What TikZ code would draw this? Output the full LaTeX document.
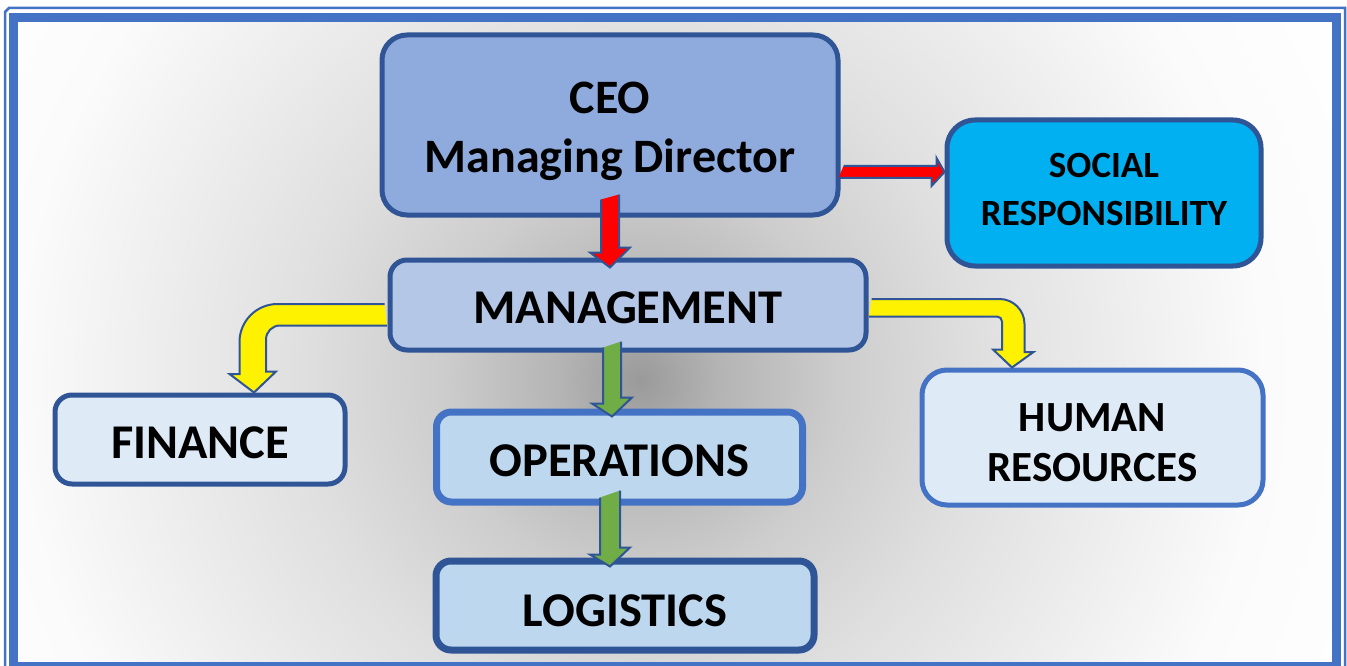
\documentclass[tikz,border=0pt]{standalone}
\usepackage{fontspec}
\setmainfont{Carlito}
\usepackage{tikz}
\usetikzlibrary{calc}

\definecolor{darkedge}{HTML}{2F5597}
\definecolor{midedge}{HTML}{4472C4}
\definecolor{frameblue}{HTML}{4472C4}
\definecolor{ceofill}{HTML}{8FAADC}
\definecolor{mgmtfill}{HTML}{B4C7E7}
\definecolor{socfill}{HTML}{00B0F0}
\definecolor{lightfill}{HTML}{DEEBF7}
\definecolor{opsfill}{HTML}{BDD7EE}
\definecolor{arrowgreen}{HTML}{70AD47}
\definecolor{bgdark}{HTML}{9A9A9A}
\definecolor{bgmid}{HTML}{B4B4B4}
\definecolor{bgsoft}{HTML}{CDCDCD}
\definecolor{bgpale}{HTML}{DFDFDF}
\definecolor{bglight}{HTML}{FBFBFB}

\pgfdeclareradialshading{bgglow}{\pgfpoint{0bp}{0bp}}{color(0bp)=(bgdark); color(2.5bp)=(bgmid); color(6.25bp)=(bgsoft); color(10.5bp)=(bgpale); color(19.5bp)=(bglight); color(25bp)=(white); color(50bp)=(white)}

\begin{document}
\begin{tikzpicture}[x=1pt,y=-1pt]
\tikzstyle{every node}+=[inner sep=0pt]
\tikzstyle{box}=[draw=darkedge, line width=5pt, align=center]
\tikzstyle{bigtext}=[font=\bfseries\fontsize{48.5}{48.5}\selectfont, text depth=0pt]
\tikzstyle{blockarrow}=[draw=darkedge, line width=2pt, line join=miter]
\useasboundingbox (0,0) rectangle (1347,666);
\fill[white] (0,0) rectangle (1347,666);
% background
\begin{scope}
\clip (18,22) rectangle (1332,662);
\shade[shading=bgglow] (-160,-420) rectangle (1440,1180);
\end{scope}
\draw[frameblue, line width=9pt] (13,17.5) rectangle (1336,666.5);
\draw[frameblue, line width=2.5pt] (5,670) -- (5,12) -- (9,8) -- (1345,8) -- (1345,670);
% boxes
\node[box, fill=ceofill, minimum width=456pt, minimum height=180pt, rounded corners=25pt, font=\bfseries\fontsize{48}{59}\selectfont] (ceo) at (610,125) {\rule{0pt}{45pt}CEO\\Managing Director};
\node[box, fill=socfill, minimum width=314pt, minimum height=146pt, rounded corners=28pt, font=\bfseries\fontsize{37}{48}\selectfont] (soc) at (1104,193) {SOCIAL\\RESPONSIBILITY\rule[-8pt]{0pt}{8pt}};
\node[box, bigtext, fill=mgmtfill, minimum width=476pt, minimum height=90pt, rounded corners=17pt, text height=36pt] (mgmt) at (628,305) {MANAGEMENT};
\node[box, bigtext, fill=lightfill, minimum width=290pt, minimum height=89pt, rounded corners=17pt, text height=37pt] (fin) at (200,439.5) {FINANCE};
\node[box, draw=midedge, fill=lightfill, minimum width=341pt, minimum height=135pt, rounded corners=25pt, font=\bfseries\fontsize{43}{50}\selectfont] (hr) at (1092.5,437.5) {\rule{0pt}{39pt}HUMAN\\RESOURCES};
\node[box, bigtext, draw=midedge, line width=7pt, fill=opsfill, minimum width=366pt, minimum height=90pt, rounded corners=15pt, text height=39pt] (ops) at (619.5,457) {OPERATIONS};
\node[box, bigtext, line width=7pt, fill=opsfill, minimum width=378pt, minimum height=89pt, rounded corners=15pt, text height=42pt] (log) at (625,605.5) {LOGISTICS};
% arrows
\draw[blockarrow, fill=red] ($(ceo.south)+(-9,-18)$) -- ++(0,53) -- ++(-11,0) -- ($(ceo.south |- mgmt.north)+(0,10)$) -- ++(20,-20) -- ++(-11,0) -- ++(0,-53);
\draw[blockarrow, fill=red] ($(ceo.east)+(3,41)$) -- ++(93,0) -- ++(0,-8) -- ($(soc.west)+(0,-21)$) -- ++(-13,14) -- ++(0,-8) -- ++(-93,0);
\draw[blockarrow, fill=yellow] ($(mgmt.west)+(-3,-1)$) -- ++(-107,0) arc[start angle=270, end angle=180, radius=38] -- ++(0,32) -- ++(-10,0) -- ($(fin.north)+(54,0)$) -- ++(22,-21) -- ++(-10,0) -- ++(0,-32) arc[start angle=180, end angle=270, radius=14] -- ++(107,0);
\draw[blockarrow, fill=yellow] ($(mgmt.east)+(3,-6)$) -- ++(128,0) arc[start angle=270, end angle=360, radius=25] -- ++(0,28) -- ++(9,0) -- ($(hr.north)+(-80.5,0)$) -- ++(-19,-18) -- ++(9,0) -- ++(0,-28) arc[start angle=0, end angle=-90, radius=5] -- ++(-128,0);
\draw[blockarrow, fill=arrowgreen] ($(mgmt.south)+(-25,-5)$) -- ++(0,56) -- ++(-11,0) -- ($(mgmt.south |- ops.north)+(-16,8)$) -- ++(20,-19) -- ++(-11,0) -- ++(0,-56);
\draw[blockarrow, fill=arrowgreen] ($(ops.south)+(-19.5,-8)$) -- ++(0,57) -- ++(-10,0) -- ($(ops.south |- log.north)+(-9.5,9)$) -- ++(20,-19) -- ++(-10,0) -- ++(0,-57);
\end{tikzpicture}
\end{document}
